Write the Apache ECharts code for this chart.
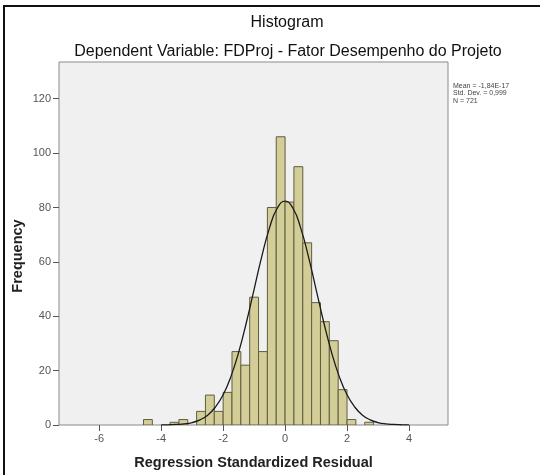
<!DOCTYPE html>
<html>
<head>
<meta charset="utf-8">
<script src="https://cdn.jsdelivr.net/npm/echarts@6/dist/echarts.min.js"></script>
<style>
html,body{margin:0;padding:0;background:#fff;}
#chart{width:540px;height:475px;}
</style>
</head>
<body>
<div id="chart"></div>
<script>
// ---- data ----
const titleText = 'Histogram';
const subtitleText = 'Dependent Variable: FDProj - Fator Desempenho do Projeto';
const xAxisName = 'Regression Standardized Residual';
const yAxisName = 'Frequency';
const statsLines = ['Mean = -1,84E-17', 'Std. Dev. = 0,999', 'N = 721'];

const xTicks = [-6, -4, -2, 0, 2, 4];
const yTicks = [0, 20, 40, 60, 80, 100, 120];

const binStart = -4.5714;   // lower edge of first bin
const binWidth = 0.2857;    // bin width (2/7)
const binCounts = [2, 0, 0, 1, 2, 0, 5, 11, 5, 12, 27, 22, 47, 27, 80, 106, 82, 95, 67, 45, 38, 31, 13, 2, 0, 1];

// normal curve
const curveX = [-4, -3.75, -3.5, -3.25, -3, -2.75, -2.5, -2.25, -2, -1.75, -1.5, -1.25, -1, -0.75, -0.5, -0.25, 0,
                0.25, 0.5, 0.75, 1, 1.25, 1.5, 1.75, 2, 2.25, 2.5, 2.75, 3, 3.25, 3.5, 3.75, 4];
const curveY = [0.03, 0.1, 0.2, 0.4, 0.9, 1.9, 3.6, 6.6, 11.1, 17.8, 26.7, 37.7, 49.9, 62.1, 72.6, 79.8, 82.3,
                79.8, 72.6, 62.1, 49.9, 37.7, 26.7, 17.8, 11.1, 6.6, 3.6, 1.9, 0.9, 0.4, 0.2, 0.1, 0.03];

// ---- build ----
const barData = binCounts.map((c, i) => [binStart + i * binWidth, binStart + (i + 1) * binWidth, c]);
const lineData = curveX.map((x, i) => [x, curveY[i]]);

const FONT = '"Liberation Sans", Arial, sans-serif';
const chart = echarts.init(document.getElementById('chart'), null, {renderer: 'canvas'});

chart.setOption({
  animation: false,
  backgroundColor: '#ffffff',
  grid: {
    left: 59, top: 62, right: 92, bottom: 50,
    outerBoundsMode: 'none',
    containLabel: false,
    show: true, backgroundColor: '#f0f0f0', borderColor: '#8a8a8a', borderWidth: 1
  },
  xAxis: {
    type: 'value', min: -7.3, max: 5.26,
    axisLine: {show: false, onZero: false},
    splitLine: {show: false},
    axisTick: {show: true, customValues: xTicks, length: 6, lineStyle: {color: '#555'}},
    axisLabel: {customValues: xTicks, color: '#555', fontSize: 11, fontFamily: FONT, margin: 8},
    name: xAxisName, nameLocation: 'middle', nameGap: 30,
    nameTextStyle: {fontSize: 14.5, fontWeight: 'bold', color: '#222', fontFamily: FONT}
  },
  yAxis: {
    type: 'value', min: 0, max: 133.5,
    axisLine: {show: false, onZero: false},
    splitLine: {show: false},
    axisTick: {show: true, customValues: yTicks, length: 6, lineStyle: {color: '#555'}},
    axisLabel: {customValues: yTicks, color: '#555', fontSize: 11, fontFamily: FONT, margin: 8}
  },
  series: [
    {
      type: 'custom',
      data: barData,
      encode: {x: [0, 1], y: 2},
      clip: true,
      renderItem: function (params, api) {
        const x0 = api.value(0), x1 = api.value(1), y = api.value(2);
        if (!y) return;
        const p0 = api.coord([x0, y]);
        const p1 = api.coord([x1, 0]);
        return {
          type: 'rect',
          shape: {x: p0[0], y: p0[1], width: p1[0] - p0[0], height: p1[1] - p0[1]},
          style: {fill: '#d3ce97', stroke: '#5f5d40', lineWidth: 1}
        };
      },
      z: 2
    },
    {
      type: 'line',
      data: lineData,
      smooth: true,
      showSymbol: false,
      symbol: 'none',
      lineStyle: {color: '#1a1a1a', width: 1.3},
      z: 3
    }
  ],
  graphic: [
    {type: 'rect', shape: {x: 4, y: 6, width: 700, height: 700}, style: {fill: null, stroke: '#111', lineWidth: 2}, silent: true},
    {type: 'text', x: 287, y: 23, style: {text: titleText, font: '16px ' + FONT, fill: '#111', textAlign: 'center', textVerticalAlign: 'middle'}},
    {type: 'text', x: 288, y: 52, style: {text: subtitleText, font: '16px ' + FONT, fill: '#111', textAlign: 'center', textVerticalAlign: 'middle'}},
    {type: 'text', x: 18, y: 256, rotation: Math.PI / 2, style: {text: yAxisName, font: 'bold 14.5px ' + FONT, fill: '#222', textAlign: 'center', textVerticalAlign: 'middle'}},
    {type: 'text', x: 453, y: 82, style: {text: statsLines.join('\n'), font: '7px ' + FONT, lineHeight: 7.5, fill: '#444', textAlign: 'left', textVerticalAlign: 'top'}}
  ]
});
</script>
</body>
</html>
